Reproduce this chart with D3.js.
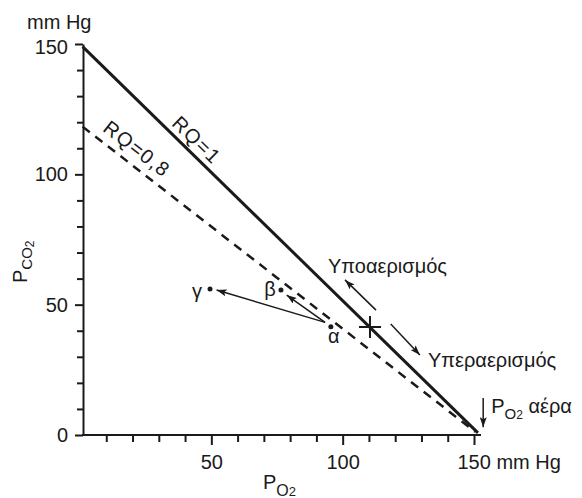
<!DOCTYPE html>
<html>
<head>
<meta charset="utf-8">
<script src="https://cdn.jsdelivr.net/npm/d3@7"></script>
<style>
body { margin: 0; background: #fff; }
text { font-family: "Liberation Sans", Arial, Helvetica, sans-serif; fill: #1a1a1a; }
</style>
</head>
<body>
<div id="chart"></div>
<script>
// O2-CO2 diagram: RQ lines, alveolar points and ventilation arrows

// axis ticks (mm Hg)
var xMinor = [10, 20, 30, 40, 60, 70, 80, 90, 110, 120, 130, 140];
var xMajor = [50, 100, 150];
var yMinor = [10, 20, 30, 40, 60, 70, 80, 90, 110, 120, 130, 140];
var yMajor = [0, 50, 100, 150];

// RQ lines [PO2, PCO2]
var rqNames = ["RQ=1", "RQ=0,8"];
var rq1 = [[1, 149], [151.5, 0.8]];
var rq08 = [[1, 118.3], [150.5, 1.2]];

// points α, β, γ
var pointNames = ["α", "β", "γ"];
var pointPO2 = [95.5, 76.5, 49.5];
var pointPCO2 = [41.5, 55.6, 56];

// arrows from α towards β and γ
var shiftFrom = [93.3, 43.2];
var shiftTo = [[78.7, 53.7], [52.0, 55.6]];

// inspired air point and ventilation arrows
var crossPoint = [110.4, 41.4];
var hypoArrow = [[112.7, 47.9], [100.9, 59.5]];
var hyperArrow = [[118.3, 42.6], [129.4, 30.7]];
var airArrow = [[153.5, 14.2], [153.5, 3.0]];

var W = 582, H = 498;
var yAxisX = 83;

var svg = d3.select("#chart")
    .append("svg")
    .attr("width", W)
    .attr("height", H);

var x = d3.scaleLinear().domain([0, 150]).range([80, 474]);
var y = d3.scaleLinear().domain([0, 150]).range([435, 44]);

svg.append("defs").append("marker")
    .attr("id", "head")
    .attr("markerUnits", "userSpaceOnUse")
    .attr("viewBox", "0 0 10 7")
    .attr("markerWidth", 10)
    .attr("markerHeight", 7)
    .attr("refX", 10)
    .attr("refY", 3.5)
    .attr("orient", "auto")
    .append("path")
    .attr("d", "M0,0 L10,3.5 L0,7 L2,3.5 z")
    .attr("fill", "#1a1a1a");

// X axis
var gxMinor = svg.append("g")
    .attr("transform", "translate(0,435)")
    .call(d3.axisBottom(x).tickValues(xMinor).tickSize(7).tickFormat(""));
gxMinor.select(".domain").remove();

var gxMajor = svg.append("g")
    .attr("transform", "translate(0,435)")
    .call(d3.axisBottom(x).tickValues(xMajor).tickSize(10).tickPadding(10)
        .tickFormat(function (d) { return d === 150 ? "150 mm Hg" : d; }));
gxMajor.select(".domain").remove();
gxMajor.selectAll("text")
    .filter(function (d) { return d === 150; })
    .attr("text-anchor", "start")
    .attr("x", -17);

svg.append("line")
    .attr("x1", yAxisX).attr("x2", 480)
    .attr("y1", 435).attr("y2", 435)
    .attr("stroke", "#1a1a1a")
    .attr("stroke-width", 2)
    .attr("stroke-linecap", "square");

// Y axis
var gyMinor = svg.append("g")
    .attr("transform", "translate(" + yAxisX + ",0)")
    .call(d3.axisLeft(y).tickValues(yMinor).tickSize(6).tickFormat(""));
gyMinor.select(".domain").remove();

var gyMajor = svg.append("g")
    .attr("transform", "translate(" + yAxisX + ",0)")
    .call(d3.axisLeft(y).tickValues(yMajor).tickSize(8).tickSizeOuter(0).tickPadding(7));
gyMajor.selectAll("text")
    .filter(function (d) { return d === 150; })
    .attr("y", 3);

svg.selectAll(".tick line, .domain")
    .attr("stroke", "#1a1a1a")
    .attr("stroke-width", 2);
svg.selectAll(".tick text")
    .attr("font-size", 20)
    .attr("font-family", "Liberation Sans, Arial, sans-serif")
    .attr("fill", "#1a1a1a");

// axis titles
svg.append("text")
    .attr("x", 27).attr("y", 29)
    .attr("font-size", 20)
    .text("mm Hg");

var xt = svg.append("text")
    .attr("x", 263).attr("y", 489)
    .attr("font-size", 20);
xt.append("tspan").text("P");
xt.append("tspan").attr("dy", 7).attr("font-size", 16).text("O");
xt.append("tspan").attr("font-size", 13).text("2");

var yt = svg.append("text")
    .attr("transform", "translate(27,283) rotate(-90)")
    .attr("font-size", 20);
yt.append("tspan").text("P");
yt.append("tspan").attr("dy", 5).attr("font-size", 15).text("CO");
yt.append("tspan").attr("dy", 2).attr("font-size", 12).text("2");

// RQ lines
var line = d3.line()
    .x(function (d) { return x(d[0]); })
    .y(function (d) { return y(d[1]); });

svg.append("path")
    .datum(rq1)
    .attr("d", line)
    .attr("fill", "none")
    .attr("stroke", "#1a1a1a")
    .attr("stroke-width", 3);

svg.append("path")
    .datum(rq08)
    .attr("d", line)
    .attr("fill", "none")
    .attr("stroke", "#1a1a1a")
    .attr("stroke-width", 2.5)
    .attr("stroke-dasharray", "9,7");

// labels along the RQ lines
function lineLabel(pts, atX, txt, gap) {
    var ax = x(pts[0][0]), ay = y(pts[0][1]);
    var bx = x(pts[1][0]), by = y(pts[1][1]);
    var ang = Math.atan2(by - ay, bx - ax) * 180 / Math.PI;
    var t = (atX - pts[0][0]) / (pts[1][0] - pts[0][0]);
    var px = ax + t * (bx - ax), py = ay + t * (by - ay);
    svg.append("text")
        .attr("transform", "translate(" + px + "," + py + ") rotate(" + ang + ")")
        .attr("dy", -gap)
        .attr("text-anchor", "middle")
        .attr("font-size", 20)
        .attr("letter-spacing", 1.5)
        .text(txt);
}
lineLabel(rq1, 41, rqNames[0], 6);
lineLabel(rq08, 18, rqNames[1], 9);

// arrows
function arrow(a, b) {
    svg.append("line")
        .attr("x1", x(a[0])).attr("y1", y(a[1]))
        .attr("x2", x(b[0])).attr("y2", y(b[1]))
        .attr("stroke", "#1a1a1a")
        .attr("stroke-width", 1.5)
        .attr("marker-end", "url(#head)");
}
shiftTo.forEach(function (d) { arrow(shiftFrom, d); });
arrow(hypoArrow[0], hypoArrow[1]);
arrow(hyperArrow[0], hyperArrow[1]);
arrow(airArrow[0], airArrow[1]);

// points
var labelOffsets = [[3, 16], [-11, 6], [-13, 9]];
pointNames.forEach(function (name, i) {
    svg.append("circle")
        .attr("cx", x(pointPO2[i]))
        .attr("cy", y(pointPCO2[i]))
        .attr("r", 2.5)
        .attr("fill", "#1a1a1a");
    svg.append("text")
        .attr("x", x(pointPO2[i]) + labelOffsets[i][0])
        .attr("y", y(pointPCO2[i]) + labelOffsets[i][1])
        .attr("text-anchor", "middle")
        .attr("font-size", 20)
        .text(name);
});

// cross
var cx = x(crossPoint[0]), cy = y(crossPoint[1]);
svg.append("path")
    .attr("d", "M" + (cx - 11) + "," + cy + "H" + (cx + 11) + "M" + cx + "," + (cy - 11) + "V" + (cy + 11))
    .attr("stroke", "#1a1a1a")
    .attr("stroke-width", 2);

// ventilation labels
svg.append("text")
    .attr("x", x(hypoArrow[1][0]) - 17)
    .attr("y", y(hypoArrow[1][1]) - 7)
    .attr("font-size", 20)
    .text("Υποαερισμός");

svg.append("text")
    .attr("x", x(hyperArrow[1][0]) + 8)
    .attr("y", y(hyperArrow[1][1]) + 12)
    .attr("font-size", 20)
    .text("Υπεραερισμός");

var at = svg.append("text")
    .attr("x", x(airArrow[0][0]) + 8)
    .attr("y", y(airArrow[0][1]) + 15)
    .attr("font-size", 20);
at.append("tspan").text("P");
at.append("tspan").attr("dy", 6).attr("font-size", 15).text("O");
at.append("tspan").attr("font-size", 12).text("2");
at.append("tspan").attr("dy", -6).text(" αέρα");
</script>
</body>
</html>
